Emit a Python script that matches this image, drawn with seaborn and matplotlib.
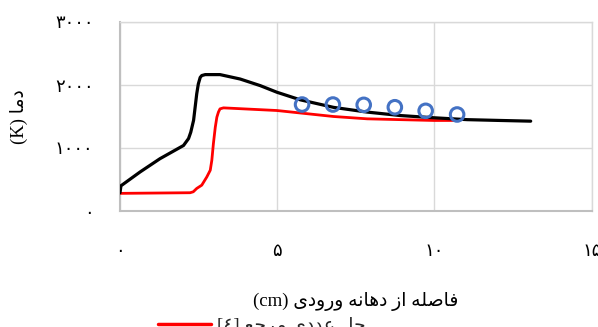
import matplotlib
matplotlib.use("Agg")
import matplotlib.pyplot as plt
from matplotlib.ticker import FixedLocator, FuncFormatter
from matplotlib.lines import Line2D
import pandas as pd
import seaborn as sns

# Temperature along the chamber: distance from inlet (cm) vs temperature (K)
present_x = [0.0, 0.03, 0.64, 1.27, 2.02, 2.18, 2.25, 2.34, 2.44, 2.49, 2.55, 2.60,
             2.71, 3.18, 3.82, 4.46, 4.99, 5.73, 6.79, 7.86, 8.92, 9.98, 11.04, 12.10, 13.06]
present_T = [290, 400, 620, 830, 1040, 1150, 1250, 1440, 1860, 2015, 2120, 2150,
             2165, 2165, 2095, 1990, 1885, 1765, 1645, 1570, 1515, 1480, 1450, 1437, 1426]

ref_x = [0.0, 2.23, 2.33, 2.44, 2.60, 2.76, 2.87, 2.92, 2.97, 3.03, 3.08, 3.13, 3.18,
         3.29, 4.99, 6.79, 7.86, 9.98, 10.7]
ref_T = [280, 290, 305, 358, 410, 540, 647, 805, 1069, 1330, 1489, 1570, 1621,
         1637, 1595, 1500, 1463, 1437, 1437]

exp_x = [5.79, 6.77, 7.75, 8.74, 9.72, 10.72]
exp_T = [1690, 1690, 1685, 1647, 1590, 1532]

x_ticks = [0, 5, 10, 15]
y_ticks = [0, 1000, 2000, 3000]

x_label = "فاصله از دهانه ورودی (cm)"
y_label = "دما (K)"
ref_label = "حل عددی مرجع [٤]"

# --- minimal Arabic-script shaping (contextual forms + right-to-left order) ---
# forms: (isolated, final, initial, medial); two-tuple = joins on the right only
FORMS = {
    "ا": ("\uFE8D", "\uFE8E"),
    "د": ("\uFEA9", "\uFEAA"),
    "ذ": ("\uFEAB", "\uFEAC"),
    "ر": ("\uFEAD", "\uFEAE"),
    "ز": ("\uFEAF", "\uFEB0"),
    "و": ("\uFEED", "\uFEEE"),
    "ب": ("\uFE8F", "\uFE90", "\uFE91", "\uFE92"),
    "ج": ("\uFE9D", "\uFE9E", "\uFE9F", "\uFEA0"),
    "ح": ("\uFEA1", "\uFEA2", "\uFEA3", "\uFEA4"),
    "ص": ("\uFEB9", "\uFEBA", "\uFEBB", "\uFEBC"),
    "ع": ("\uFEC9", "\uFECA", "\uFECB", "\uFECC"),
    "ف": ("\uFED1", "\uFED2", "\uFED3", "\uFED4"),
    "ل": ("\uFEDD", "\uFEDE", "\uFEDF", "\uFEE0"),
    "م": ("\uFEE1", "\uFEE2", "\uFEE3", "\uFEE4"),
    "ن": ("\uFEE5", "\uFEE6", "\uFEE7", "\uFEE8"),
    "ه": ("\uFEE9", "\uFEEA", "\uFEEB", "\uFEEC"),
    "ی": ("\uFEEF", "\uFEF0", "\uFEF3", "\uFEF4"),
}


def shape_word(word):
    out = []
    for i, ch in enumerate(word):
        if ch not in FORMS:
            out.append(ch)
            continue
        prev = word[i - 1] if i > 0 else None
        nxt = word[i + 1] if i + 1 < len(word) else None
        join_prev = prev in FORMS and len(FORMS[prev]) == 4
        join_next = len(FORMS[ch]) == 4 and nxt in FORMS
        f = FORMS[ch]
        if join_prev and join_next:
            out.append(f[3])
        elif join_prev:
            out.append(f[1])
        elif join_next:
            out.append(f[2])
        else:
            out.append(f[0])
    return "".join(out)


def rtl(text):
    words = text.split(" ")
    shown = []
    for w in reversed(words):
        if any(c in FORMS for c in w):
            shown.append(shape_word(w)[::-1])
        else:
            shown.append(w)
    return " ".join(shown)


FA_DIGITS = "۰۱۲۳۴۵۶۷۸۹"


def fa_num(v, _pos=None):
    return "".join(FA_DIGITS[int(d)] for d in str(int(round(v))))


# --- figure ---
sns.set_theme(style="white")
plt.rcParams["font.family"] = ["Liberation Serif", "DejaVu Sans"]

fig = plt.figure(figsize=(5.98, 3.27), dpi=100)
ax = fig.add_axes([120 / 598, 1 - 211 / 327, 471.7 / 598, 189 / 327])

present = pd.DataFrame({"x": present_x, "T": present_T})
reference = pd.DataFrame({"x": ref_x, "T": ref_T})
experiment = pd.DataFrame({"x": exp_x, "T": exp_T})

sns.lineplot(data=reference, x="x", y="T", ax=ax, color="#ff0000", linewidth=2.0,
             estimator=None, sort=False, zorder=3)
sns.lineplot(data=present, x="x", y="T", ax=ax, color="#000000", linewidth=2.3,
             estimator=None, sort=False, zorder=4)
sns.scatterplot(data=experiment, x="x", y="T", ax=ax, s=95, marker="o",
                facecolor="none", edgecolor="#4472c4", linewidth=2.2, zorder=5)

ax.set_xlim(0, 15)
ax.set_ylim(0, 3000)
ax.xaxis.set_major_locator(FixedLocator(x_ticks))
ax.yaxis.set_major_locator(FixedLocator(y_ticks))
ax.xaxis.set_major_formatter(FuncFormatter(fa_num))
ax.yaxis.set_major_formatter(FuncFormatter(fa_num))
ax.grid(True, color="#d9d9d9", linewidth=1.0)
ax.set_axisbelow(True)

for side in ("top", "right"):
    ax.spines[side].set_visible(True)
    ax.spines[side].set_color("#d9d9d9")
    ax.spines[side].set_linewidth(1.0)
for side in ("left", "bottom"):
    ax.spines[side].set_color("#bfbfbf")
    ax.spines[side].set_linewidth(1.5)

ax.tick_params(axis="both", length=0, labelsize=13, colors="#404040")
ax.tick_params(axis="x", pad=23)
ax.tick_params(axis="y", pad=19)
for lbl in ax.get_xticklabels() + ax.get_yticklabels():
    lbl.set_color("#000000")

ax.set_xlabel(rtl(x_label), fontsize=13.5, color="#000000")
ax.set_ylabel(rtl(y_label), fontsize=13.5, color="#000000")
ax.xaxis.set_label_coords(0.5, -0.43)
ax.yaxis.set_label_coords(-0.195, 0.5)

handle = Line2D([], [], color="#ff0000", linewidth=2.5)
fig.legend([handle], [rtl(ref_label)], loc="center left",
           bbox_to_anchor=(158 / 598, 1 / 327), frameon=False, fontsize=13.5,
           handlelength=2.8, handletextpad=0.35, borderpad=0, borderaxespad=0)

fig.savefig("out.png", dpi=100)
